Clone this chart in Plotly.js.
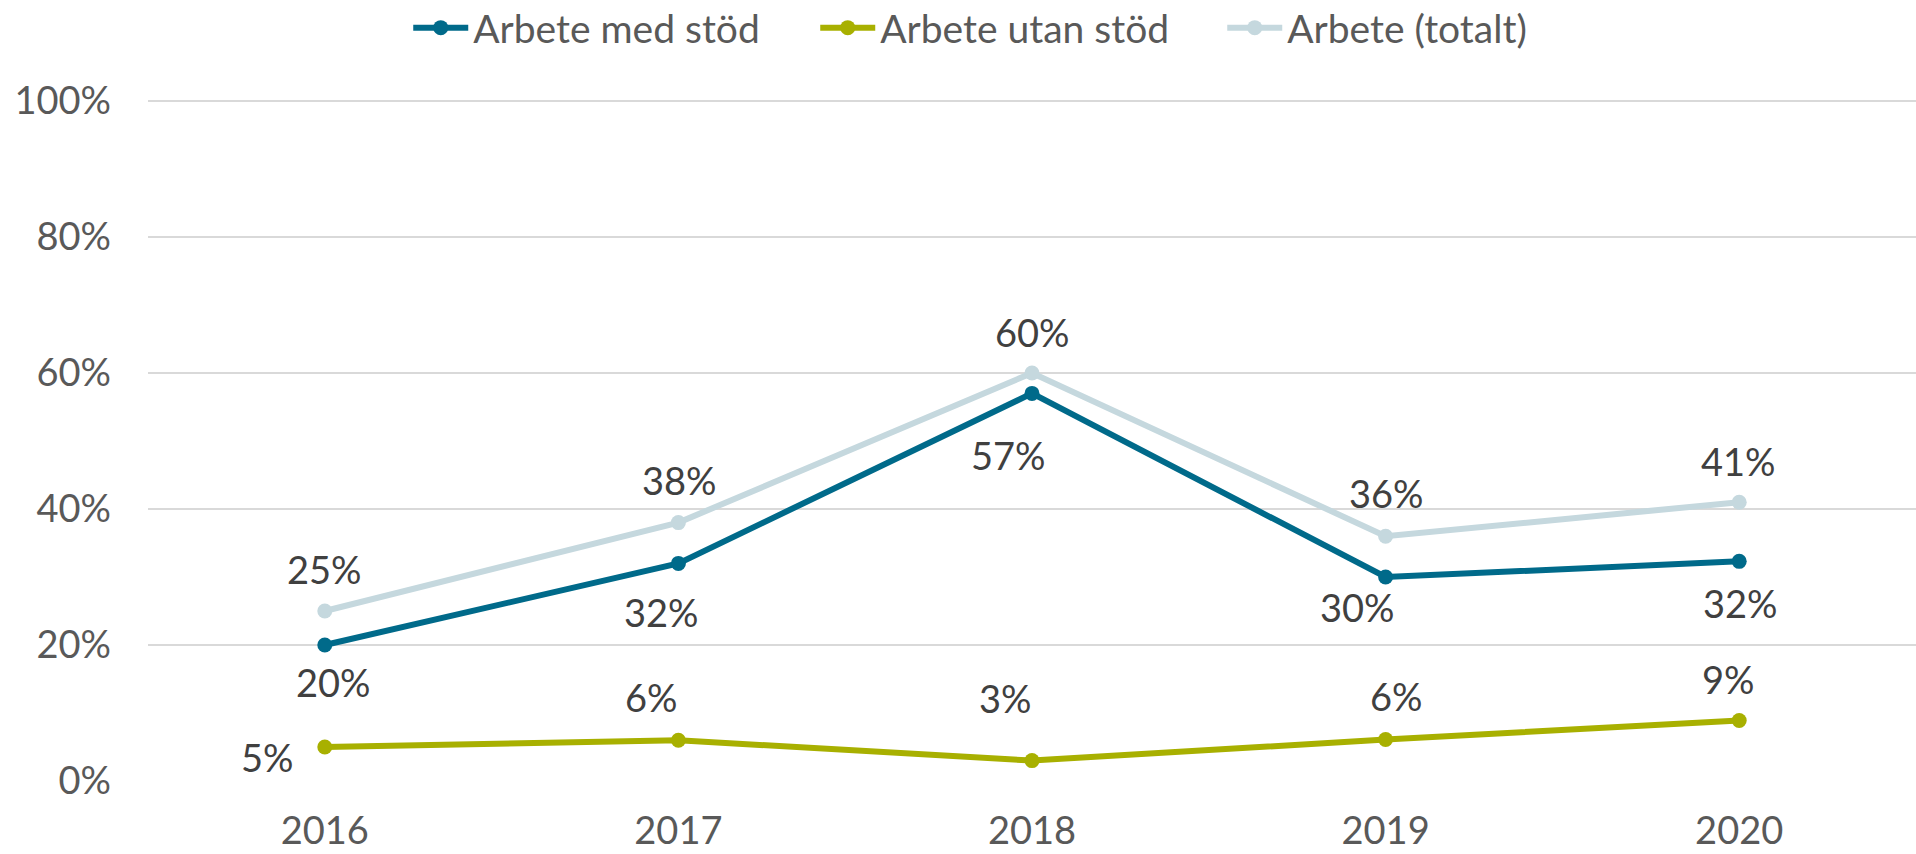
<!DOCTYPE html>
<html>
<head>
<meta charset="utf-8">
<script src="https://cdn.plot.ly/plotly-3.0.1.min.js"></script>
<style>
html,body{margin:0;padding:0;background:#fff;}
#chart{width:1916px;height:854px;}
</style>
</head>
<body>
<div id="chart"></div>
<script>
// ---- data ----
const years = ["2016", "2017", "2018", "2019", "2020"];
const arbeteMedStod = [0.20, 0.32, 0.57, 0.30, 0.323];
const arbeteUtanStod = [0.05, 0.06, 0.03, 0.061, 0.089];
const arbeteTotalt = [0.25, 0.38, 0.60, 0.36, 0.41];
const seriesNames = ["Arbete med stöd", "Arbete utan stöd", "Arbete (totalt)"];
const yTickVals = [0, 0.2, 0.4, 0.6, 0.8, 1.0];
const yTickText = ["0%", "20%", "40%", "60%", "80%", "100%"];

// ---- label placement (pixel offsets, styling only) ----
const offMed = [[9, 37], [-17, 49], [-24, 62], [-28, 30], [1, 42]];
const offUtan = [[-57, 10], [-27, -43], [-27, -63], [11, -44], [-11, -41]];
const offTot = [[0, -42], [1, -43], [0, -41], [1, -43], [-1, -41]];

const colors = ["#006A8A", "#A8B000", "#C5D8DE"];
const FONT = "Lato, 'Open Sans', sans-serif";

function trace(name, y, color) {
  return {
    type: "scatter", mode: "lines+markers", name: name,
    x: years, y: y,
    line: {color: color, width: 6},
    marker: {color: color, size: 15},
    hoverinfo: "skip"
  };
}

const data = [
  trace(seriesNames[0], arbeteMedStod, colors[0]),
  trace(seriesNames[1], arbeteUtanStod, colors[1]),
  trace(seriesNames[2], arbeteTotalt, colors[2])
];

const annotations = [];
function addLabels(vals, offs) {
  vals.forEach((v, i) => {
    annotations.push({
      x: i, y: v, xref: "x", yref: "y",
      text: Math.round(v * 100) + "%",
      showarrow: false,
      xanchor: "center", yanchor: "middle",
      xshift: offs[i][0], yshift: -offs[i][1],
      font: {family: FONT, size: 38, color: "#404040"}
    });
  });
}
addLabels(arbeteMedStod, offMed);
addLabels(arbeteUtanStod, offUtan);
addLabels(arbeteTotalt, offTot);

const layout = {
  width: 1916, height: 854,
  margin: {l: 148, r: 0, t: 100, b: 73, autoexpand: false},
  paper_bgcolor: "#ffffff", plot_bgcolor: "#ffffff",
  font: {family: FONT, color: "#595959", size: 38},
  showlegend: true,
  legend: {
    orientation: "h", x: 0.4925, xanchor: "center", y: 1.106, yanchor: "middle",
    font: {family: FONT, size: 39, color: "#595959"},
    itemwidth: 55, traceorder: "normal",
    entrywidthmode: "pixels", entrywidth: 337
  },
  xaxis: {
    type: "category", range: [-0.5, 4.5], showgrid: false, zeroline: false,
    showline: false, ticks: "", tickfont: {family: FONT, size: 38, color: "#595959"},
    ticklabelstandoff: 24, fixedrange: true
  },
  yaxis: {
    range: [0, 1.0015], tickvals: yTickVals, ticktext: yTickText,
    showgrid: true, gridcolor: "#D9D9D9", gridwidth: 1.5, zeroline: false,
    showline: false, ticks: "", tickfont: {family: FONT, size: 38, color: "#595959"},
    ticklabelstandoff: 36, fixedrange: true
  },
  annotations: annotations
};

Plotly.newPlot("chart", data, layout, {displayModeBar: false, staticPlot: true});
</script>
</body>
</html>
